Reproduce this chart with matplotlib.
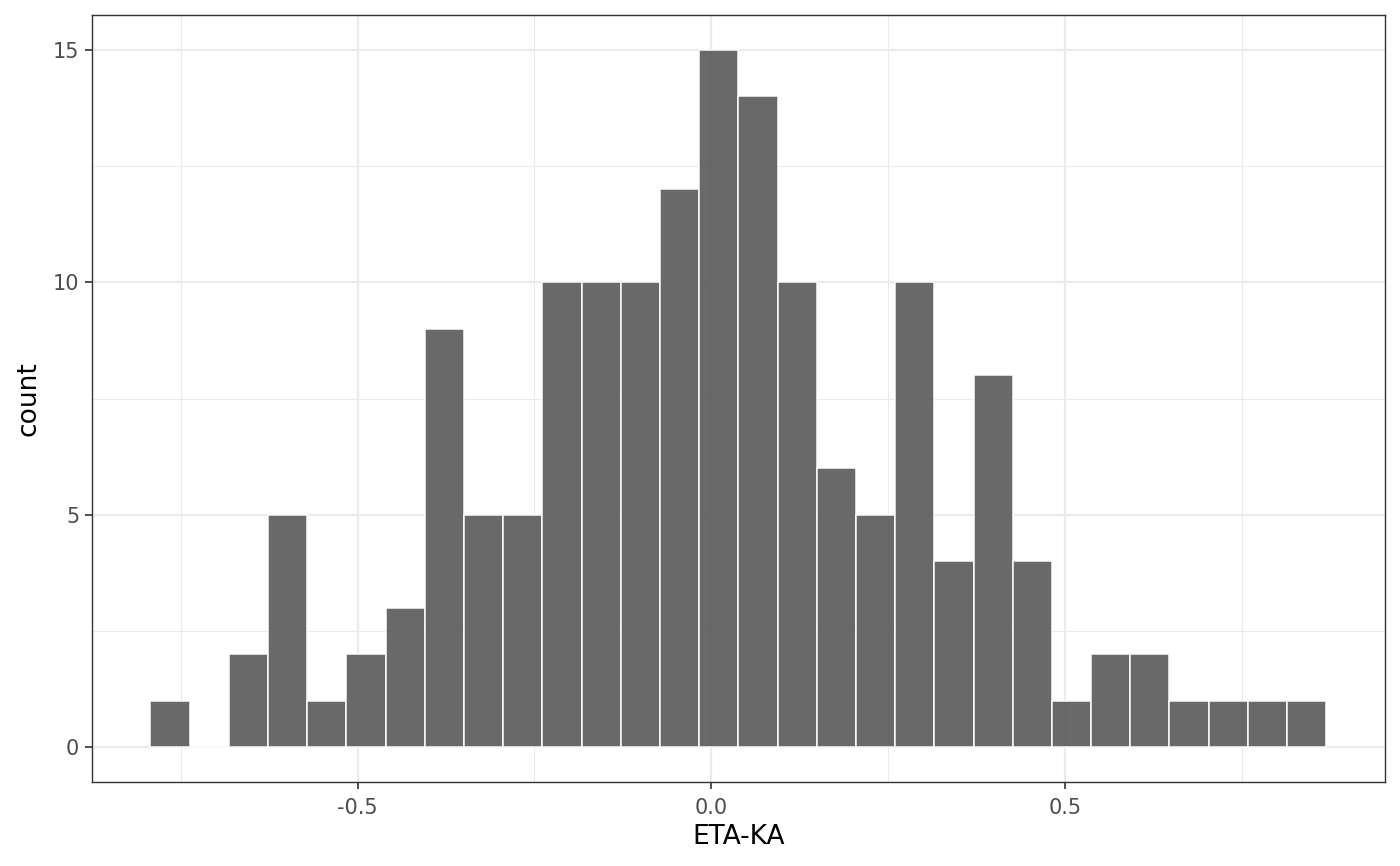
import matplotlib
matplotlib.use("Agg")
import matplotlib.pyplot as plt
import numpy as np
from matplotlib.ticker import MultipleLocator

# Histogram data (30 bins)
bin_start = -0.7927
bin_width = 0.0554
counts = [1, 0, 2, 5, 1, 2, 3, 9, 5, 5,
          10, 10, 10, 12, 15, 14, 10, 6, 5, 10,
          4, 8, 4, 1, 2, 2, 1, 1, 1, 1]
x_ticks = [-0.5, 0.0, 0.5]
x_tick_labels = ["-0.5", "0.0", "0.5"]
y_ticks = [0, 5, 10, 15]
x_label = "ETA-KA"
y_label = "count"

edges = bin_start + bin_width * np.arange(len(counts) + 1)
lefts = edges[:-1]

fig = plt.figure(figsize=(14, 8.66), dpi=100)
ax = fig.add_axes([0.0655, 0.0967, 0.9893 - 0.0655, 0.9827 - 0.0967])

ax.bar(lefts, counts, width=bin_width, align="edge", color="#595959", alpha=0.9,
       edgecolor="white", linewidth=1.2, zorder=3)

xmin, xmax = edges[0], edges[-1]
xr = xmax - xmin
ax.set_xlim(xmin - 0.05 * xr, xmax + 0.05 * xr)
ymax = max(counts)
ax.set_ylim(-0.05 * ymax, ymax * 1.05)

ax.set_xticks(x_ticks)
ax.set_xticklabels(x_tick_labels)
ax.set_yticks(y_ticks)
ax.xaxis.set_minor_locator(MultipleLocator(0.25))
ax.yaxis.set_minor_locator(MultipleLocator(2.5))

ax.grid(which="major", color="#EBEBEB", linewidth=1.6, zorder=0)
ax.grid(which="minor", color="#EBEBEB", linewidth=0.8, zorder=0)
ax.set_axisbelow(True)

for s in ax.spines.values():
    s.set_color("#333333")
    s.set_linewidth(1.0)

ax.tick_params(which="major", length=5, width=1.2, color="#333333",
               labelsize=15, labelcolor="#4D4D4D", pad=4)
ax.tick_params(axis="x", which="major", pad=6)
ax.tick_params(which="minor", length=0)

ax.set_xlabel(x_label, fontsize=19, color="black", labelpad=5)
ax.set_ylabel(y_label, fontsize=19, color="black", labelpad=8)

fig.savefig("out.png", dpi=100, facecolor="white")
